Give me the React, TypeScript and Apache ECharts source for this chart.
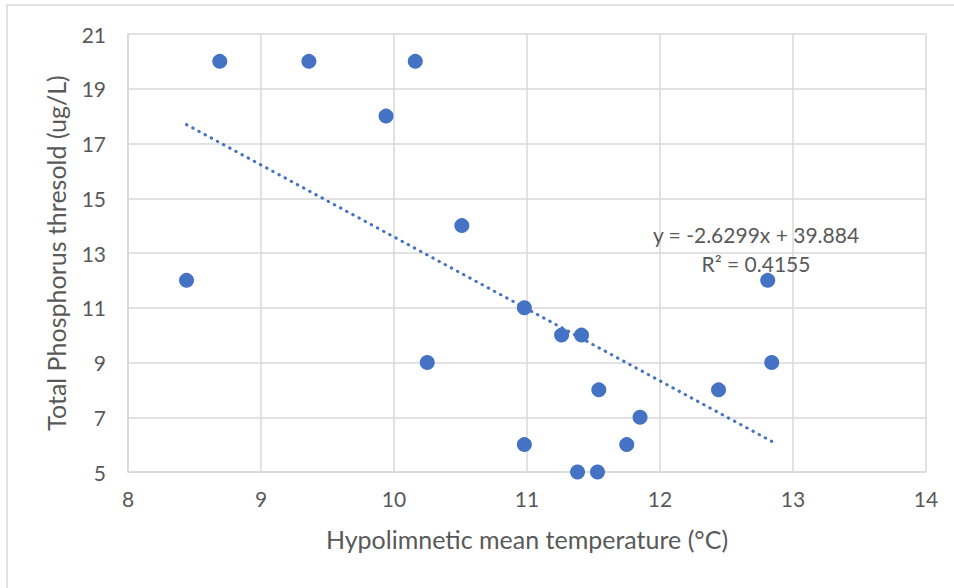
import React, { useEffect, useRef } from "react";
import * as echarts from "echarts";

const tempX = [8.44, 8.69, 9.36, 10.16, 9.94, 10.51, 10.25, 10.98, 10.98, 11.26, 11.41, 11.54, 11.38, 11.53, 11.85, 11.75, 12.44, 12.81, 12.84];
const phosY = [12, 20, 20, 20, 18, 14, 9, 11, 6, 10, 10, 8, 5, 5, 7, 6, 8, 12, 9];
const trendX = [8.44, 12.84];
const trendY = [17.69, 6.12];
const equationText = "y = -2.6299x + 39.884";
const r2Text = "R² = 0.4155";
const xTitle = "Hypolimnetic mean temperature (°C)";
const yTitle = "Total Phosphorus thresold (ug/L)";

const FONT = "Lato";
const GREY = "#595959";
const GRID = "#d9d9d9";
const BLUE = "#4472C4";

export default function App() {
  const ref = useRef<HTMLDivElement>(null);
  useEffect(() => {
    if (!ref.current) return;
    const chart = echarts.init(ref.current, undefined, { renderer: "svg" });
    chart.setOption({
      animation: false,
      backgroundColor: "#ffffff",
      textStyle: { fontFamily: FONT },
      grid: { left: 128, top: 34, right: 28, bottom: 116, containLabel: false },
      xAxis: {
        type: "value",
        min: 8,
        max: 14,
        interval: 1,
        name: xTitle,
        nameLocation: "middle",
        nameGap: 54,
        nameTextStyle: { color: GREY, fontSize: 25, fontFamily: FONT },
        axisLine: { show: true, lineStyle: { color: GRID, width: 1.5 } },
        axisTick: { show: false },
        axisLabel: { color: GREY, fontSize: 21, margin: 16, fontFamily: FONT },
        splitLine: { show: true, lineStyle: { color: GRID, width: 1.5 } },
      },
      yAxis: {
        type: "value",
        min: 5,
        max: 21,
        interval: 2,
        name: yTitle,
        nameLocation: "middle",
        nameGap: 60,
        nameTextStyle: { color: GREY, fontSize: 25, fontFamily: FONT },
        axisLine: { show: true, lineStyle: { color: GRID, width: 1.5 } },
        axisTick: { show: false },
        axisLabel: { color: GREY, fontSize: 21, margin: 22, fontFamily: FONT },
        splitLine: { show: true, lineStyle: { color: GRID, width: 1.5 } },
      },
      series: [
        {
          type: "line",
          data: trendX.map((x, i) => [x, trendY[i]]),
          symbol: "none",
          lineStyle: { color: BLUE, width: 3, type: [0.5, 6.5], cap: "round" },
          z: 2,
        },
        {
          type: "scatter",
          data: tempX.map((x, i) => [x, phosY[i]]),
          symbolSize: 15,
          itemStyle: { color: BLUE, opacity: 1 },
          z: 3,
        },
      ],
      graphic: [
        {
          type: "rect",
          shape: { x: 7, y: 5, width: 1200, height: 1200 },
          style: { fill: "none", stroke: GRID, lineWidth: 1.5 },
          silent: true,
          z: 0,
        },
        {
          type: "text",
          x: 756,
          y: 234,
          style: {
            text: equationText,
            fill: GREY,
            fontSize: 21,
            fontFamily: FONT,
            align: "center",
            verticalAlign: "middle",
          },
          z: 10,
        },
        {
          type: "text",
          x: 756,
          y: 263,
          style: {
            text: r2Text,
            fill: GREY,
            fontSize: 21,
            fontFamily: FONT,
            align: "center",
            verticalAlign: "middle",
          },
          z: 10,
        },
      ],
    });
    return () => chart.dispose();
  }, []);
  return (
    <div
      ref={ref}
      style={{ position: "fixed", left: 0, top: 0, width: 954, height: 588, background: "#fff" }}
    />
  );
}
